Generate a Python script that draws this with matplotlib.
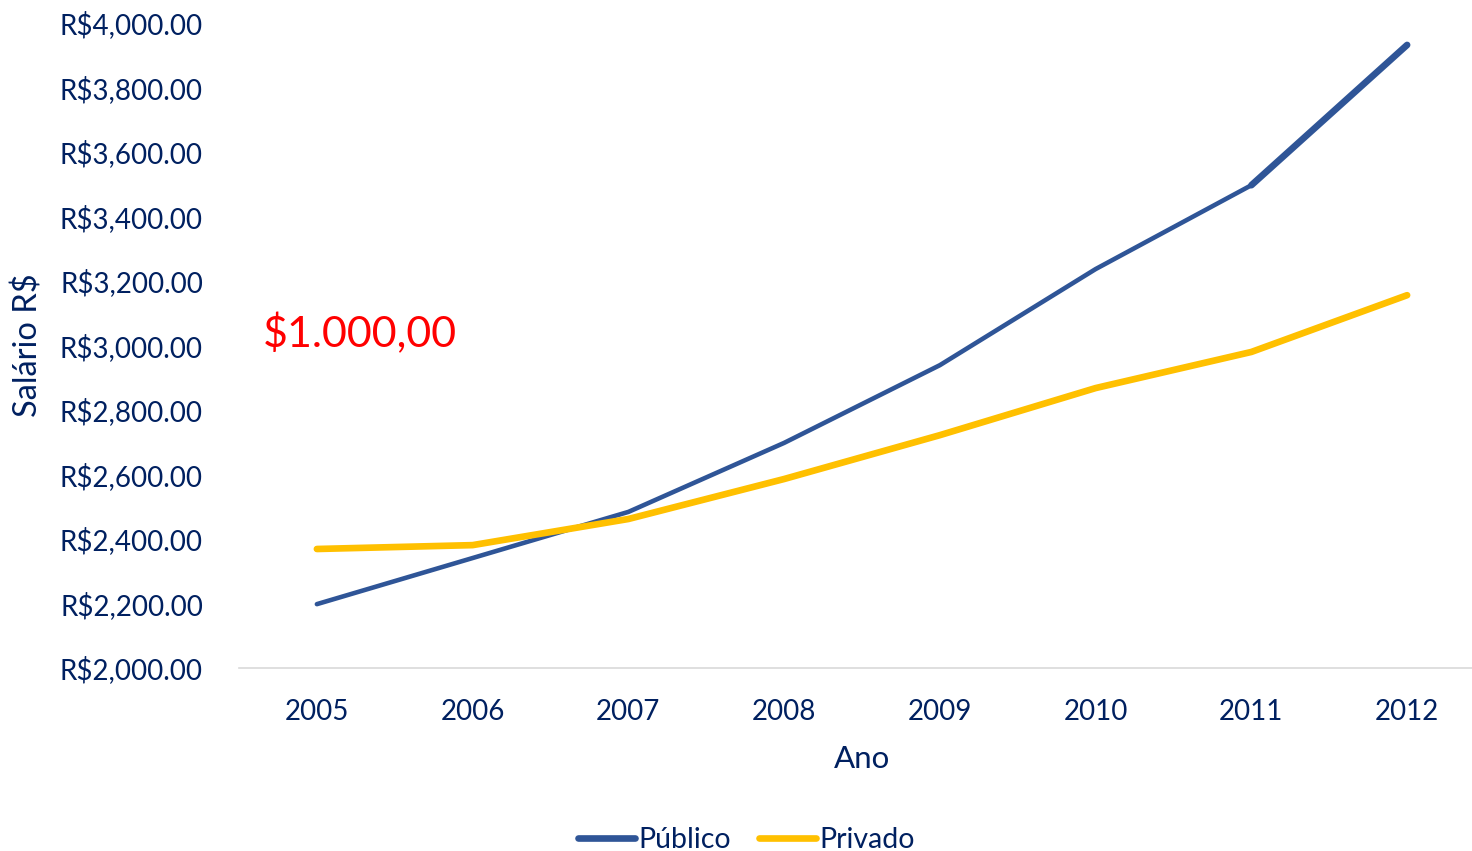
import matplotlib
matplotlib.use("Agg")
import matplotlib.pyplot as plt
from matplotlib.ticker import FuncFormatter

years = ["2005", "2006", "2007", "2008", "2009", "2010", "2011", "2012"]
publico = [2198, 2341, 2484, 2698, 2939, 3237, 3497, 3932]
privado = [2369, 2381, 2462, 2586, 2722, 2868, 2980, 3156]
y_ticks = [2000, 2200, 2400, 2600, 2800, 3000, 3200, 3400, 3600, 3800, 4000]

TXT = "#002060"
BLUE = "#2F5597"
GOLD = "#FFC000"

plt.rcParams['font.family'] = ['Lato', 'DejaVu Sans']

fig = plt.figure(figsize=(14.72, 8.51), dpi=100)
ax = fig.add_axes([239/1472, 1-668/851, 1246/1472, (668-23)/851])

x = list(range(len(years)))
ax.plot(x, publico, color=BLUE, lw=3.3, solid_capstyle='round', solid_joinstyle='round', label='Público')
ax.plot(x[-2:], publico[-2:], color=BLUE, lw=4.8, solid_capstyle='round')
ax.plot(x, privado, color=GOLD, lw=4.8, solid_capstyle='round', solid_joinstyle='round', label='Privado')

ax.set_xlim(-0.5, len(years) - 0.5)
ax.set_ylim(2000, 4000)
ax.set_yticks(y_ticks)
ax.yaxis.set_major_formatter(FuncFormatter(lambda v, p: f"R${v:,.2f}"))
ax.set_xticks(x)
ax.set_xticklabels(years)

for s in ['top', 'right', 'left']:
    ax.spines[s].set_visible(False)
ax.spines['bottom'].set_color('#D9D9D9')
ax.spines['bottom'].set_linewidth(1.2)
ax.tick_params(axis='both', length=0, labelsize=20, colors=TXT)
ax.tick_params(axis='y', pad=26)
ax.tick_params(axis='x', pad=22.5)

ax.set_xlabel("Ano", fontsize=22.5, color=TXT)
ax.xaxis.set_label_coords(0.5, -0.119)
ax.set_ylabel("Salário R$", fontsize=23.5, color=TXT)
ax.yaxis.set_label_coords(-0.157, 0.5)

ax.text(0.019, 0.519, "$1.000,00", transform=ax.transAxes, color='#FF0000',
        fontsize=31, ha='left', va='center')

leg = fig.legend(loc='lower center', bbox_to_anchor=(0.507, -0.033), ncol=2, frameon=False,
                 fontsize=20.5, handlelength=2.0, handletextpad=0.1, columnspacing=1.0)
for t in leg.get_texts():
    t.set_color(TXT)
for h in leg.get_lines():
    h.set_linewidth(4.8)

fig.savefig("out.png", dpi=100)
